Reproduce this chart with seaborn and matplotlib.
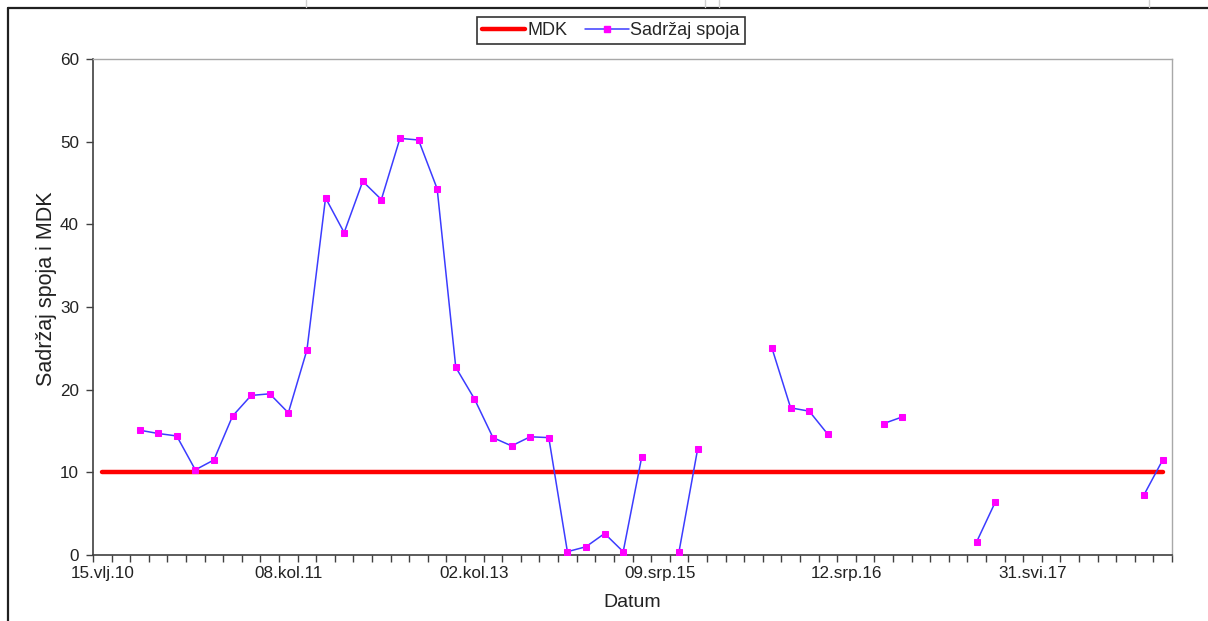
import numpy as np
import pandas as pd
import matplotlib
matplotlib.use("Agg")
import matplotlib.pyplot as plt
from matplotlib.lines import Line2D
import seaborn as sns

# ---- data ----
n_categories = 58
tick_positions = [0, 10, 20, 30, 40, 50]
tick_labels = ["15.vlj.10", "08.kol.11", "02.kol.13", "09.srp.15", "12.srp.16", "31.svi.17"]
mdk_value = 10
sadrzaj = [np.nan, np.nan, 15.1, 14.7, 14.4, 10.3, 11.5, 16.8, 19.3, 19.5,
           17.2, 24.8, 43.2, 39.0, 45.2, 43.0, 50.4, 50.2, 44.3, 22.7,
           18.9, 14.2, 13.2, 14.3, 14.2, 0.4, 1.0, 2.6, 0.4, 11.9,
           np.nan, 0.4, 12.8, np.nan, np.nan, np.nan, 25.0, 17.8, 17.4, 14.6,
           np.nan, np.nan, 15.9, 16.7, np.nan, np.nan, np.nan, 1.6, 6.4, np.nan,
           np.nan, np.nan, np.nan, np.nan, np.nan, np.nan, 7.3, 11.5]

sns.set_style("white")
plt.rcParams['font.family'] = ['Liberation Sans', 'DejaVu Sans']

idx = np.arange(n_categories)
df = pd.DataFrame({"x": idx, "mdk": [mdk_value] * n_categories, "val": sadrzaj})
# segment id so that gaps stay as gaps
df["seg"] = df["val"].isna().cumsum()
dval = df.dropna(subset=["val"])

W, H = 1208, 621
fig = plt.figure(figsize=(W / 100, H / 100), dpi=100)
ax = fig.add_axes([93 / W, 1 - 555 / H, (1172 - 93) / W, (555 - 59) / H])

sns.lineplot(data=df, x="x", y="mdk", ax=ax, color="#ff0000", linewidth=3.2,
             estimator=None, legend=False, zorder=2)
sns.lineplot(data=dval, x="x", y="val", units="seg", estimator=None, ax=ax,
             color="#3c3cff", linewidth=1.1, marker="s", markersize=4.0,
             markerfacecolor="#ff00ff", markeredgecolor="#ff00ff",
             legend=False, zorder=3)

ax.set_xlim(-0.5, n_categories - 0.5)
ax.set_ylim(0, 60)
ax.set_yticks([0, 10, 20, 30, 40, 50, 60])
ax.set_xticks(tick_positions)
ax.set_xticklabels(tick_labels)
ax.set_xticks(np.arange(-0.5, n_categories, 1.0), minor=True)
ax.tick_params(axis="x", which="major", length=0, pad=8, labelsize=12.3, colors="#222222")
ax.tick_params(axis="x", which="minor", length=5, width=1, color="#404040", direction="out", bottom=True)
ax.tick_params(axis="y", length=5, width=1, color="#404040", direction="out", left=True,
               labelsize=12.3, pad=5, labelcolor="#222222")
ax.set_xlabel("Datum", fontsize=14, color="#222222", labelpad=9)
ax.set_ylabel("Sadržaj spoja i MDK", fontsize=15.5, color="#222222", labelpad=2, y=0.536)
ax.grid(False)
for s in ["left", "bottom"]:
    ax.spines[s].set_color("#404040")
    ax.spines[s].set_linewidth(1.2)
for s in ["top", "right"]:
    ax.spines[s].set_color("#a8a8a8")
    ax.spines[s].set_linewidth(1.0)

handles = [Line2D([], [], color="#ff0000", linewidth=3.2),
           Line2D([], [], color="#3c3cff", linewidth=1.1, marker="s", markersize=4,
                  markerfacecolor="#ff00ff", markeredgecolor="#ff00ff")]
leg = fig.legend(handles, ["MDK", "Sadržaj spoja"], loc="center",
                 bbox_to_anchor=(611 / W, 1 - 30.5 / H), ncol=2, fontsize=13,
                 frameon=True, fancybox=False, shadow=False, handlelength=2.4,
                 handletextpad=0.1, columnspacing=1.0, borderpad=0.3)
leg.get_frame().set_edgecolor("black")
leg.get_frame().set_linewidth(1.2)

# chart-area border and spreadsheet gridlines
fig.add_artist(Line2D([8 / W, 8 / W], [0, 1 - 8 / H], color="#202020", linewidth=1.6,
                      transform=fig.transFigure))
fig.add_artist(Line2D([8 / W, 1], [1 - 8 / H, 1 - 8 / H], color="#202020", linewidth=1.6,
                      transform=fig.transFigure))
for gx in [306, 705, 719, 1149]:
    fig.add_artist(Line2D([gx / W, gx / W], [1 - 7 / H, 1], color="#d0d0d0", linewidth=1,
                          transform=fig.transFigure))

fig.savefig("out.png", dpi=100)
